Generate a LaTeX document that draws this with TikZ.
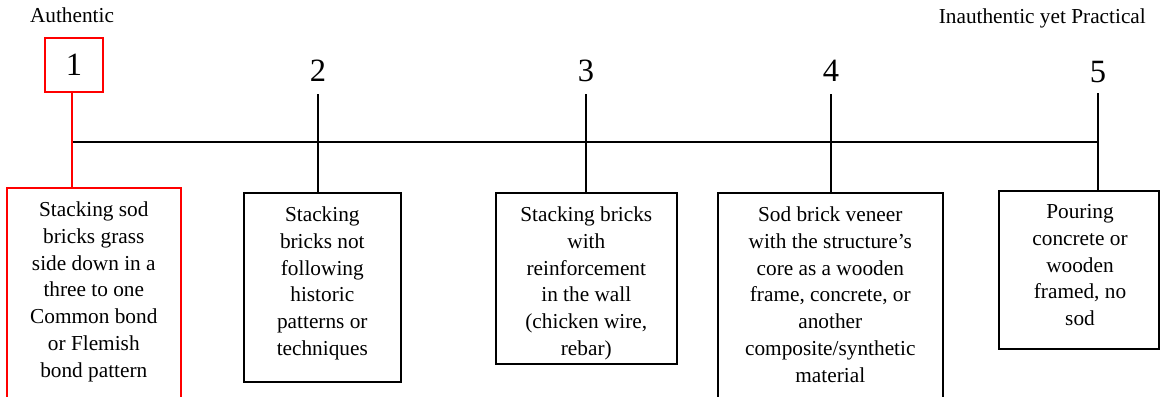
\documentclass[tikz,border=0pt]{standalone}
\usepackage{fontspec}
\setmainfont{Liberation Serif}
\newcommand{\boxtextfont}{\fontsize{21.3}{26.7}\selectfont}
\newcommand{\scalefont}{\fontsize{32.5}{36}\selectfont}
\begin{document}
\begin{tikzpicture}[x=1pt,y=-1pt,
  rule/.style={line width=1.6pt, line cap=butt},
  frame/.style={draw, line width=1.6pt, inner sep=0pt, anchor=north west},
  boxtext/.style={font=\boxtextfont, align=center, inner sep=0pt, anchor=north},
  rank/.style={font=\scalefont, inner sep=0pt},
  endlabel/.style={font=\boxtextfont, inner sep=0pt}]
\useasboundingbox (0,0) rectangle (1161,396);

% end labels of the scale
\node[endlabel, anchor=base] (lauth) at (72,23) {Authentic};
\node[endlabel, anchor=base east] (linauth) at (1146,24) {Inauthentic yet Practical};

% rank numbers
\node[rank, draw=red, line width=1.6pt, minimum width=58pt, minimum height=54pt] (n1) at (74,65) {1};
\node[rank] (n2) at (318,71) {2};
\node[rank] (n3) at (586,71) {3};
\node[rank] (n4) at (831,71) {4};
\node[rank] (n5) at (1098,72) {5};

% description boxes
\node[frame, draw=red, minimum width=174pt, minimum height=215pt] (b1) at (6,187) {};
\node[frame, minimum width=157pt, minimum height=189pt] (b2) at (243,192) {};
\node[frame, minimum width=181pt, minimum height=171pt] (b3) at (495,192) {};
\node[frame, minimum width=225pt, minimum height=212pt] (b4) at (717,192) {};
\node[frame, minimum width=160pt, minimum height=158pt] (b5) at (998,190) {};

\node[boxtext] (t1) at ([yshift=-11pt]b1.north) {\strut Stacking sod\\bricks grass\\side down in a\\three to one\\Common bond\\or Flemish\\bond pattern};
\node[boxtext] (t2) at ([yshift=-11pt]b2.north) {\strut Stacking\\bricks not\\following\\historic\\patterns or\\techniques};
\node[boxtext] (t3) at ([yshift=-11pt]b3.north) {\strut Stacking bricks\\with\\reinforcement\\in the wall\\(chicken wire,\\rebar)};
\node[boxtext] (t4) at ([yshift=-11pt]b4.north) {\strut Sod brick veneer\\with the structure’s\\core as a wooden\\frame, concrete, or\\another\\composite/synthetic\\material};
\node[boxtext] (t5) at ([yshift=-10pt]b5.north -| 1080,0) {\strut Pouring\\concrete or\\wooden\\framed, no\\sod};

% scale line and stems
\coordinate (j1) at (72,142);
\coordinate (j5) at (1098,142);
\coordinate (c2) at (318,94);
\coordinate (c3) at (586,94);
\coordinate (c4) at (831,94);
\coordinate (c5) at (1098,93);

\draw[rule] (j1) -- (j5);
\draw[rule, red] (n1.south -| j1) -- (b1.north -| j1);
\draw[rule] (c2) -- (b2.north -| c2);
\draw[rule] (c3) -- (b3.north -| c3);
\draw[rule] (c4) -- (b4.north -| c4);
\draw[rule] (c5) -- (b5.north -| c5);
\end{tikzpicture}
\end{document}
